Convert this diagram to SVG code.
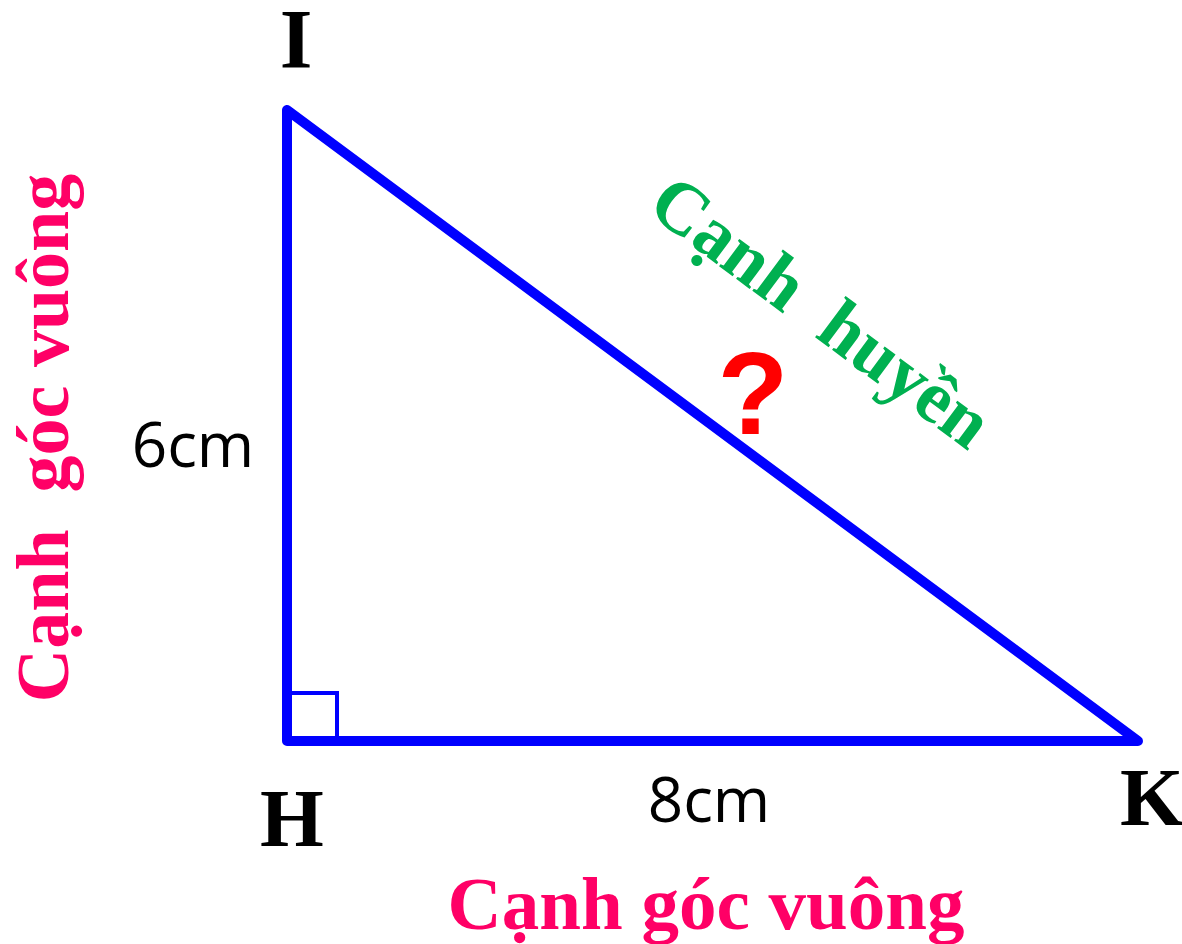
<svg xmlns="http://www.w3.org/2000/svg" width="1182" height="944" viewBox="0 0 1182 944">
<style>
.v{font-family:"Liberation Serif",serif;font-weight:bold;fill:#000}
.pink{font-family:"Liberation Serif",serif;font-weight:bold;fill:#FF0066}
.green{font-family:"Liberation Serif",serif;font-weight:bold;fill:#00B050}
.m{font-family:"Open Sans","Liberation Sans",sans-serif;fill:#000}
</style>
<rect width="1182" height="944" fill="#fff"/>
<g id="triangle">
<polygon points="287,110 287,741 1138,741" fill="none" stroke="#0000FF" stroke-width="10" stroke-linejoin="round"/>
<polyline points="289,693 337,693 337,739" fill="none" stroke="#0000FF" stroke-width="4"/>
</g>
<g id="vertex-I"><text class="v" x="296" y="68" font-size="84" text-anchor="middle">I</text></g>
<g id="vertex-H"><text class="v" x="292" y="846" font-size="82" text-anchor="middle">H</text></g>
<g id="vertex-K"><text class="v" x="1120" y="825" font-size="82">K</text></g>
<g id="label-6cm"><text class="m" x="193" y="467" font-size="62" text-anchor="middle">6cm</text></g>
<g id="label-8cm"><text class="m" x="709" y="822" font-size="62" text-anchor="middle">8cm</text></g>
<g id="label-question"><text x="753" y="434" font-size="116" font-family="Liberation Sans,sans-serif" font-weight="bold" fill="#FF0000" text-anchor="middle">?</text></g>
<g id="label-bottom"><text class="pink" x="706" y="929" font-size="75" text-anchor="middle">Cạnh góc vuông</text></g>
<g id="label-left"><text class="pink" transform="translate(68,438) rotate(-90)" font-size="74" text-anchor="middle" xml:space="preserve">Cạnh  góc vuông</text></g>
<g id="label-hyp"><text class="green" transform="translate(645,211) rotate(36.6)" font-size="74" xml:space="preserve">Cạnh  huyền</text></g>
</svg>
